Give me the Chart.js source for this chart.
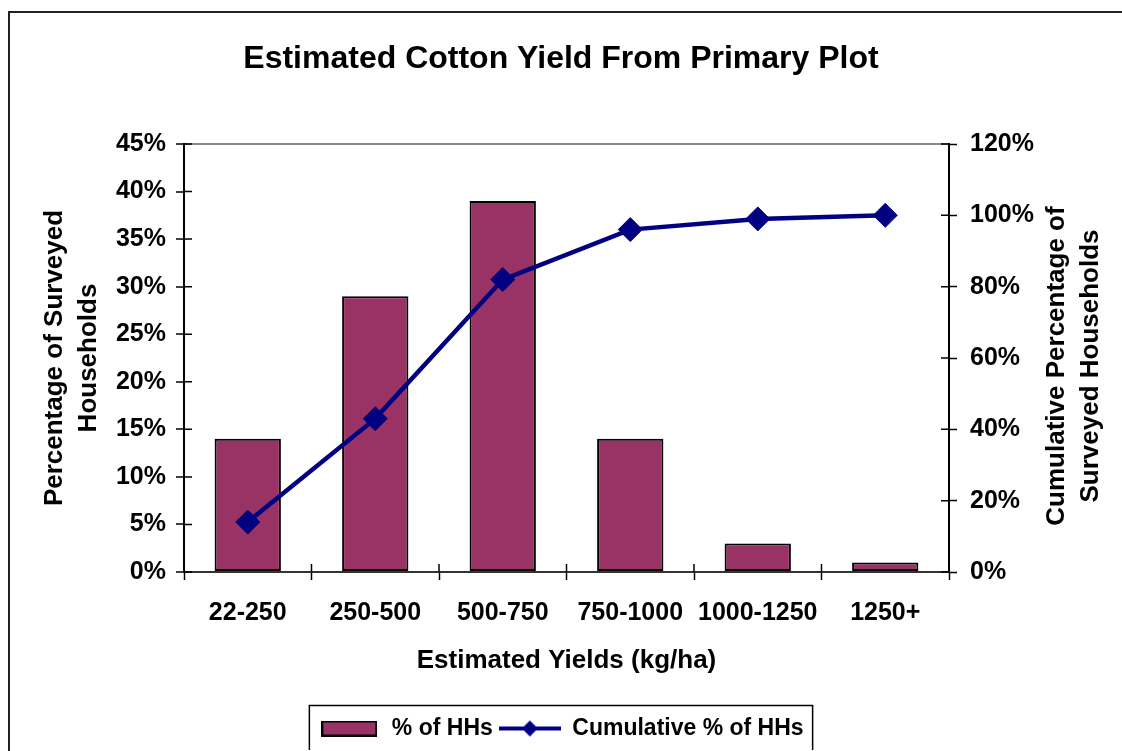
<!DOCTYPE html>
<html>
<head>
<meta charset="utf-8">
<script src="https://cdn.jsdelivr.net/npm/chart.js@4/dist/chart.umd.min.js"></script>
<style>
  html, body { margin: 0; padding: 0; background: #fff; overflow: hidden; }
  #wrap { position: relative; width: 1122px; height: 751px; overflow: hidden; }
  #frame { position: absolute; left: 8px; top: 11px; width: 2000px; height: 2000px;
           border-left: 2px solid #222; border-top: 2px solid #222; pointer-events: none; }
  canvas { position: absolute; left: 0; top: 0; }
</style>
</head>
<body>
<div id="wrap">
  <canvas id="chart" width="1122" height="750"></canvas>
  <div id="frame"></div>
</div>
<script>
// Data
const categories = ['22-250', '250-500', '500-750', '750-1000', '1000-1250', '1250+'];
const pctHHs = [14, 29, 39, 14, 3, 1];
const cumulativePct = [14, 43, 82, 96, 99, 100];

const FONT = 'Liberation Sans, Arial, sans-serif';
const BAR_COLOR = '#993366';
const LINE_COLOR = '#000080';

// Legend swatches (bar box and line with diamond)
function makeBarSwatch() {
    const c = document.createElement('canvas');
    c.width = 56; c.height = 16;
    const g = c.getContext('2d');
    g.fillStyle = BAR_COLOR;
    g.fillRect(1, 1, 54, 14);
    g.lineWidth = 2;
    g.strokeStyle = '#000';
    g.strokeRect(1, 1, 54, 14);
    return c;
}

function makeLineSwatch() {
    const c = document.createElement('canvas');
    c.width = 62; c.height = 20;
    const g = c.getContext('2d');
    g.strokeStyle = LINE_COLOR;
    g.lineWidth = 4;
    g.beginPath();
    g.moveTo(0, 10);
    g.lineTo(62, 10);
    g.stroke();
    g.fillStyle = LINE_COLOR;
    g.beginPath();
    g.moveTo(31, 2);
    g.lineTo(39, 10);
    g.lineTo(31, 18);
    g.lineTo(23, 10);
    g.closePath();
    g.fill();
    return c;
}

const barSwatch = makeBarSwatch();
const lineSwatch = makeLineSwatch();

// Inner half of the tick marks (the ticks cross the axes)
const innerTicksPlugin = {
    id: 'innerTicks',
    beforeDatasetsDraw(chart) {
        const ctx = chart.ctx;
        const {x, y, y1} = chart.scales;
        ctx.save();
        ctx.strokeStyle = '#000';
        ctx.lineWidth = 1.5;
        ctx.beginPath();
        y.ticks.forEach(t => {
            const py = y.getPixelForValue(t.value);
            ctx.moveTo(y.right, py);
            ctx.lineTo(y.right + 8, py);
        });
        y1.ticks.forEach(t => {
            const py = y1.getPixelForValue(t.value);
            ctx.moveTo(y1.left - 8, py);
            ctx.lineTo(y1.left, py);
        });
        for (let i = 0; i <= categories.length; i++) {
            const px = x.getPixelForTick(0) - (x.getPixelForTick(1) - x.getPixelForTick(0)) / 2
                + i * (x.getPixelForTick(1) - x.getPixelForTick(0));
            ctx.moveTo(px, x.top - 8);
            ctx.lineTo(px, x.top);
        }
        ctx.stroke();
        ctx.restore();
    }
};

// Frame around the legend and right-axis title reading bottom to top
const extrasPlugin = {
    id: 'extras',
    afterDraw(chart) {
        const ctx = chart.ctx;
        const legend = chart.legend;
        if (legend && legend.legendHitBoxes.length) {
            const boxes = legend.legendHitBoxes;
            const left = Math.min(...boxes.map(b => b.left)) - 9;
            const right = Math.max(...boxes.map(b => b.left + b.width)) + 9;
            const cy = boxes[0].top + boxes[0].height / 2;
            ctx.save();
            ctx.strokeStyle = '#000';
            ctx.lineWidth = 1.5;
            ctx.strokeRect(left, cy - 23, right - left, 46);
            ctx.restore();
        }

        const y1 = chart.scales.y1;
        const cy = (y1.top + y1.bottom) / 2 + 8;
        ctx.save();
        ctx.fillStyle = '#000';
        ctx.font = 'bold 26px ' + FONT;
        ctx.textAlign = 'center';
        ctx.textBaseline = 'middle';
        ctx.translate(y1.left + 108, cy);
        ctx.rotate(-Math.PI / 2);
        ctx.fillText('Cumulative Percentage of', 0, 0);
        ctx.fillText('Surveyed Households', 0, 34);
        ctx.restore();
    }
};

const chart = new Chart(document.getElementById('chart'), {
    type: 'bar',
    data: {
        labels: categories,
        datasets: [
            {
                label: '% of HHs',
                data: pctHHs,
                backgroundColor: BAR_COLOR,
                borderColor: '#000',
                borderWidth: 2,
                borderSkipped: false,
                categoryPercentage: 1,
                barPercentage: 0.52,
                yAxisID: 'y',
                order: 1
            },
            {
                type: 'line',
                label: 'Cumulative % of HHs',
                data: cumulativePct,
                borderColor: LINE_COLOR,
                backgroundColor: LINE_COLOR,
                borderWidth: 4.5,
                tension: 0,
                pointStyle: 'rectRot',
                pointRadius: 12,
                pointBorderWidth: 1,
                pointBackgroundColor: LINE_COLOR,
                pointBorderColor: LINE_COLOR,
                yAxisID: 'y1',
                order: 0
            }
        ]
    },
    options: {
        responsive: false,
        animation: false,
        devicePixelRatio: 1,
        layout: { padding: 0 },
        plugins: {
            tooltip: { enabled: false },
            title: {
                display: true,
                text: 'Estimated Cotton Yield From Primary Plot',
                color: '#000',
                font: { family: FONT, size: 32, weight: 'bold' },
                padding: { top: 40, bottom: 65.6 }
            },
            legend: {
                position: 'bottom',
                labels: {
                    usePointStyle: true,
                    pointStyleWidth: 62,
                    padding: 6,
                    color: '#000',
                    font: { family: FONT, size: 23, weight: 'bold' },
                    sort: (a, b) => a.datasetIndex - b.datasetIndex,
                    generateLabels(chart) {
                        const items = Chart.defaults.plugins.legend.labels.generateLabels(chart);
                        items.forEach(it => {
                            it.pointStyle = it.datasetIndex === 0 ? barSwatch : lineSwatch;
                        });
                        return items;
                    }
                }
            }
        },
        scales: {
            x: {
                offset: true,
                grid: {
                    offset: true,
                    drawOnChartArea: false,
                    tickLength: 8,
                    tickColor: '#000',
                    tickWidth: 1.5
                },
                border: { color: '#333', width: 2 },
                ticks: {
                    color: '#000',
                    padding: 18,
                    font: { family: FONT, size: 25, weight: 'bold' }
                },
                title: {
                    display: true,
                    text: 'Estimated Yields (kg/ha)',
                    color: '#000',
                    font: { family: FONT, size: 26, weight: 'bold' },
                    padding: { top: 0, bottom: 35 }
                },
                afterFit(scale) { scale.height = 139; }
            },
            y: {
                position: 'left',
                min: 0,
                max: 45,
                ticks: {
                    stepSize: 5,
                    padding: 10,
                    color: '#000',
                    font: { family: FONT, size: 25, weight: 'bold' },
                    callback: v => v + '%'
                },
                grid: {
                    color: ctx => (ctx.tick && ctx.tick.value === 45) ? '#888' : 'rgba(0,0,0,0)',
                    lineWidth: 2,
                    tickColor: '#000',
                    tickLength: 8,
                    tickWidth: 1.5
                },
                border: { color: '#000', width: 2 },
                title: {
                    display: true,
                    text: ['Percentage of Surveyed', 'Households'],
                    color: '#000',
                    font: { family: FONT, size: 26, weight: 'bold', lineHeight: 34 / 26 },
                    padding: { top: 38, bottom: 0 }
                },
                afterFit(scale) { scale.width = 184; }
            },
            y1: {
                position: 'right',
                min: 0,
                max: 120,
                ticks: {
                    stepSize: 20,
                    padding: 13,
                    color: '#000',
                    font: { family: FONT, size: 25, weight: 'bold' },
                    callback: v => v + '%'
                },
                grid: {
                    drawOnChartArea: false,
                    tickColor: '#000',
                    tickLength: 8,
                    tickWidth: 1.5
                },
                border: { color: '#000', width: 2 },
                title: { display: false },
                afterFit(scale) { scale.width = 173; }
            }
        }
    },
    plugins: [innerTicksPlugin, extrasPlugin]
});
</script>
</body>
</html>
